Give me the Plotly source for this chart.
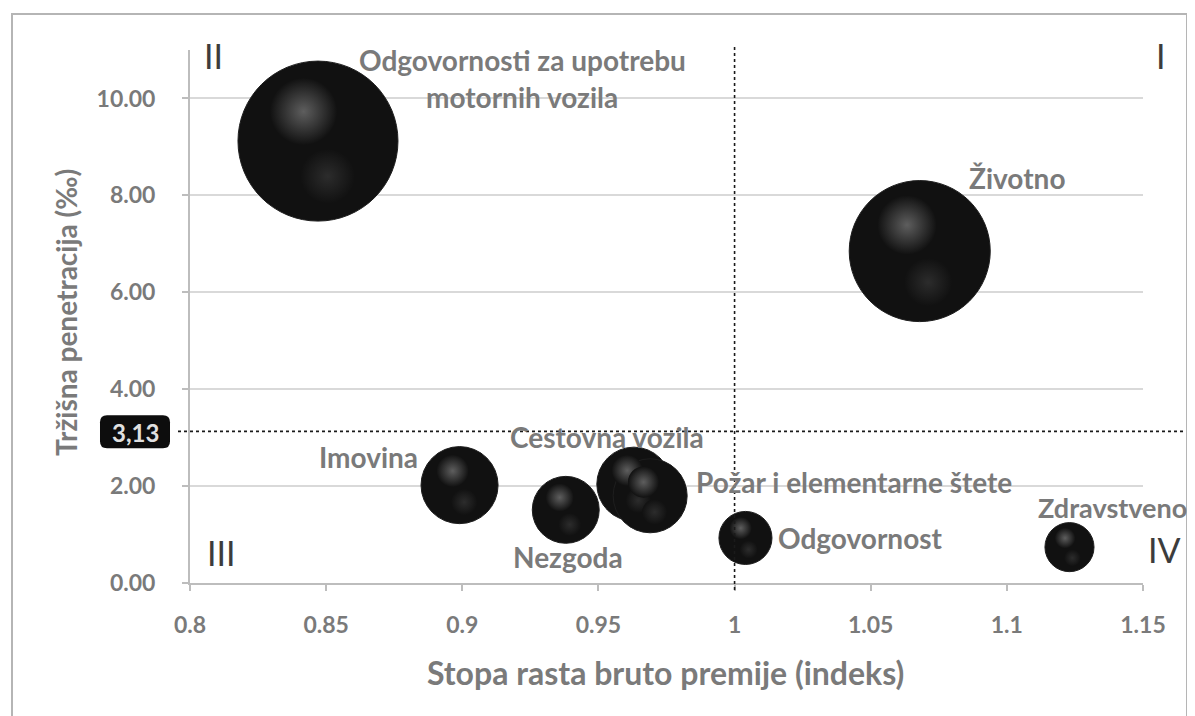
import math
import plotly.graph_objects as go

# ---------------- data ----------------
categories = ["Odgovornosti za upotrebu motornih vozila", "Životno", "Imovina", "Nezgoda",
              "Cestovna vozila", "Požar i elementarne štete", "Odgovornost", "Zdravstveno"]
growth_index = [0.847, 1.068, 0.899, 0.938, 0.963, 0.969, 1.004, 1.123]
penetration = [9.12, 6.85, 2.02, 1.51, 2.04, 1.80, 0.93, 0.74]
premium_weight = [100.0, 77.7, 23.2, 17.5, 21.4, 21.4, 11.0, 9.4]
x_ticks = [0.8, 0.85, 0.9, 0.95, 1.0, 1.05, 1.1, 1.15]
x_tick_labels = ["0.8", "0.85", "0.9", "0.95", "1", "1.05", "1.1", "1.15"]
y_ticks = [0, 2, 4, 6, 8, 10]
y_tick_labels = ["0.00", "2.00", "4.00", "6.00", "8.00", "10.00"]
x_threshold = 1.0
y_threshold = 3.13
y_threshold_label = "3,13"
quadrant_labels = ["I", "II", "III", "IV"]
x_title = "Stopa rasta bruto premije (indeks)"
y_title = "Tržišna penetracija (‰)"

# ---------------- layout geometry ----------------
OFF = 8                       # default page body margin
W, H = 1195 - OFF, 716 - OFF
ML, MT = 190 - OFF, 50 - OFF
PLOT_R, PLOT_B = 1143 - OFF, 583 - OFF
MR, MB = W - PLOT_R, H - PLOT_B
PW, PH = W - ML - MR, H - MT - MB
X_RANGE = [0.8, 1.15]
Y_RANGE = [0, 11]
px_per_x = PW / (X_RANGE[1] - X_RANGE[0])
px_per_y = PH / (Y_RANGE[1] - Y_RANGE[0])

def pp(px, py):
    """screen pixel -> paper coordinates"""
    return (px - OFF - ML) / PW, (H - MB - (py - OFF)) / PH

FONT = "Lato"
LABEL_GREY = "#7a7a7a"
MAX_D = 160
vmax = max(premium_weight)
sizeref = 2.0 * vmax / MAX_D ** 2
diam = [MAX_D * math.sqrt(v / vmax) for v in premium_weight]
BASE = "#111111"

fig = go.Figure()

# base spheres
fig.add_trace(go.Scatter(
    x=growth_index, y=penetration, mode="markers", hoverinfo="skip", showlegend=False,
    marker=dict(size=premium_weight, sizemode="area", sizeref=sizeref, opacity=1,
                color=BASE, line=dict(width=1, color="#1e1e1e")),
))
# specular highlights (derived from the same data)
hx, hy, hx2, hy2 = [], [], [], []
for x, y, d in zip(growth_index, penetration, diam):
    r = d / 2
    hx.append(x - 0.18 * r / px_per_x)
    hy.append(y + 0.37 * r / px_per_y)
    hx2.append(x + 0.12 * r / px_per_x)
    hy2.append(y - 0.44 * r / px_per_y)
fig.add_trace(go.Scatter(
    x=hx2, y=hy2, mode="markers", hoverinfo="skip", showlegend=False,
    marker=dict(size=[v * 0.34 ** 2 for v in premium_weight], sizemode="area", sizeref=sizeref,
                opacity=1, color=BASE, line=dict(width=0),
                gradient=dict(type="radial", color="#2c2c2c")),
))
fig.add_trace(go.Scatter(
    x=hx, y=hy, mode="markers", hoverinfo="skip", showlegend=False,
    marker=dict(size=[v * 0.42 ** 2 for v in premium_weight], sizemode="area", sizeref=sizeref,
                opacity=1, color=BASE, line=dict(width=0),
                gradient=dict(type="radial", color="#5e5e5e")),
))

shapes = []
# outer frame
fx0, fy0 = pp(12, 14)
fx1, fy1 = pp(1187, 740)
shapes.append(dict(type="rect", xref="paper", yref="paper", x0=fx0, y0=fy1, x1=fx1, y1=fy0,
                   line=dict(color="#b5b5b5", width=2), layer="below"))
# dotted threshold lines
_, vy0 = pp(0, 590)
_, vy1 = pp(0, 45)
shapes.append(dict(type="line", xref="x", yref="paper", x0=x_threshold, x1=x_threshold,
                   y0=vy0, y1=vy1, line=dict(color="#1a1a1a", width=1.6, dash="dot")))
hx0, _ = pp(178, 0)
hx1, _ = pp(1184, 0)
shapes.append(dict(type="line", xref="paper", yref="y", x0=hx0, x1=hx1,
                   y0=y_threshold, y1=y_threshold, line=dict(color="#1a1a1a", width=1.6, dash="dot")))
# rounded black box for threshold label
ycen = OFF + MT + PH - (y_threshold - Y_RANGE[0]) * px_per_y
bx0, bx1 = 100, 170
by0, by1 = ycen - 16, ycen + 17
rad = 7
def P(px, py):
    a, b = pp(px, py)
    return f"{a:.5f},{b:.5f}"
path = (f"M {P(bx0 + rad, by0)} L {P(bx1 - rad, by0)} Q {P(bx1, by0)} {P(bx1, by0 + rad)} "
        f"L {P(bx1, by1 - rad)} Q {P(bx1, by1)} {P(bx1 - rad, by1)} "
        f"L {P(bx0 + rad, by1)} Q {P(bx0, by1)} {P(bx0, by1 - rad)} "
        f"L {P(bx0, by0 + rad)} Q {P(bx0, by0)} {P(bx0 + rad, by0)} Z")
shapes.append(dict(type="path", xref="paper", yref="paper", path=path,
                   fillcolor="#0d0d0d", line=dict(width=0)))

annotations = []
def ann(text, px, py, size=28, color=LABEL_GREY, weight="bold", angle=0):
    a, b = pp(px, py)
    annotations.append(dict(text=text, x=a, y=b, xref="paper", yref="paper", showarrow=False,
                            xanchor="center", yanchor="middle", textangle=angle,
                            font=dict(family=FONT, size=size, color=color, weight=weight)))

# bubble labels
ann("Odgovornosti za upotrebu", 522, 60)
ann("motornih vozila", 522, 97)
ann(categories[1], 1017, 178)
ann(categories[2], 368, 457)
ann(categories[3], 568, 557)
ann(categories[4], 607, 437)
ann(categories[5], 854, 482)
ann(categories[6], 860, 538)
ann(categories[7], 1112, 507, size=27)
# quadrant labels
QC = "#3c3c3c"
ann(quadrant_labels[0], 1161, 55, size=34, color=QC, weight="normal")
ann(quadrant_labels[1], 213, 55, size=34, color=QC, weight="normal")
ann(quadrant_labels[2], 221, 552, size=34, color=QC, weight="normal")
ann(quadrant_labels[3], 1164, 549, size=34, color=QC, weight="normal")
# threshold value
ann(y_threshold_label, 135, ycen + 1, size=24, color="#e0e0e0")
# axis titles
ann(x_title, 665, 672, size=32)
ann(y_title, 66, 313, size=28, angle=-90)

fig.update_layout(
    width=W, height=H,
    margin=dict(l=ML, r=MR, t=MT, b=MB),
    paper_bgcolor="white", plot_bgcolor="white",
    showlegend=False,
    shapes=shapes, annotations=annotations,
    xaxis=dict(range=X_RANGE, tickvals=x_ticks, ticktext=x_tick_labels,
               showgrid=False, zeroline=False, showline=True, linecolor="#bdbdbd", linewidth=2,
               ticks="outside", ticklen=6, tickcolor="#bdbdbd", tickwidth=1.5,
               ticklabelstandoff=14,
               tickfont=dict(family=FONT, size=23, color=LABEL_GREY, weight="bold"),
               automargin=False),
    yaxis=dict(range=Y_RANGE, tickvals=y_ticks, ticktext=y_tick_labels,
               showgrid=True, gridcolor="#d9d9d9", gridwidth=1.5,
               zeroline=False, showline=True, linecolor="#bdbdbd", linewidth=2,
               ticks="outside", ticklen=6, tickcolor="#bdbdbd", tickwidth=1.5,
               ticklabelstandoff=22,
               tickfont=dict(family=FONT, size=23, color=LABEL_GREY, weight="bold"),
               automargin=False),
)

fig.write_html("out.html")
